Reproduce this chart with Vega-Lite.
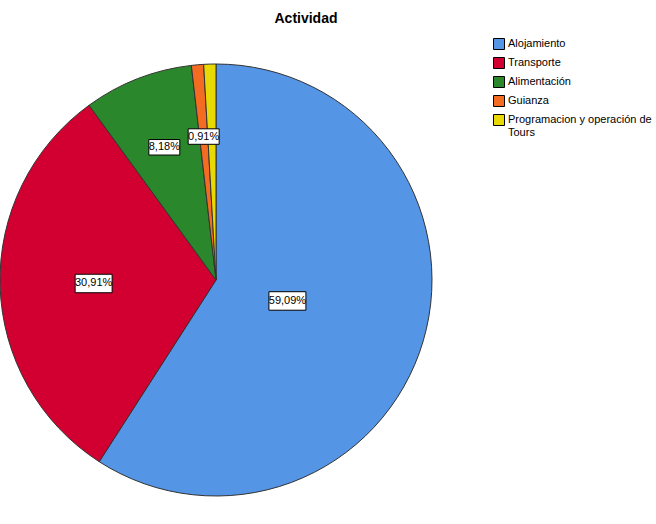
{
  "$schema": "https://vega.github.io/schema/vega-lite/v6.json",
  "width": 432,
  "height": 500,
  "autosize": {"type": "none"},
  "padding": {"top": 30, "left": 0, "right": 224, "bottom": 0},
  "background": "white",
  "title": {
    "text": "Actividad",
    "font": "Liberation Sans",
    "fontSize": 14,
    "fontWeight": "bold",
    "color": "black",
    "anchor": "middle",
    "frame": "group",
    "dx": 90,
    "offset": 4
  },
  "data": {
    "values": [
      {"Actividad": "Alojamiento", "Porcentaje": 59.09, "orden": 1, "etiqueta": "59,09%"},
      {"Actividad": "Transporte", "Porcentaje": 30.91, "orden": 2, "etiqueta": "30,91%"},
      {"Actividad": "Alimentación", "Porcentaje": 8.18, "orden": 3, "etiqueta": "8,18%"},
      {"Actividad": "Guianza", "Porcentaje": 0.91, "orden": 4, "etiqueta": "0,91%"},
      {"Actividad": "Programacion y operación de Tours", "Porcentaje": 0.91, "orden": 5, "etiqueta": ""}
    ]
  },
  "layer": [
    {
      "mark": {"type": "arc", "outerRadius": 216, "stroke": "#333333", "strokeWidth": 1},
      "encoding": {
        "theta": {"field": "Porcentaje", "type": "quantitative", "stack": true},
        "order": {"field": "orden", "type": "quantitative"},
        "color": {
          "field": "Actividad",
          "type": "nominal",
          "scale": {
            "domain": ["Alojamiento", "Transporte", "Alimentación", "Guianza", "Programacion y operación de Tours"],
            "range": ["#5595E5", "#D20031", "#2B872B", "#F36C22", "#E8D804"]
          },
          "legend": {
            "orient": "none",
            "legendX": 493,
            "legendY": 8,
            "title": null,
            "padding": 0,
            "symbolType": "square",
            "symbolSize": 121,
            "symbolStrokeColor": "black",
            "symbolStrokeWidth": 1,
            "symbolOpacity": 1,
            "labelFont": "Liberation Sans",
            "labelFontSize": 11,
            "labelColor": "black",
            "labelOffset": 3,
            "labelLimit": 300,
            "rowPadding": 3,
            "labelExpr": "datum.label == 'Programacion y operación de Tours' ? ['Programacion y operación de', 'Tours'] : datum.label"
          }
        }
      }
    },
    {
      "transform": [
        {"window": [{"op": "sum", "field": "Porcentaje", "as": "acum"}], "sort": [{"field": "orden"}], "frame": [null, 0]},
        {"filter": "datum.etiqueta != ''"},
        {"calculate": "(datum.acum - datum.Porcentaje / 2) / 100 * 2 * PI", "as": "mid"},
        {"calculate": "datum.Porcentaje / 100 * PI", "as": "half"},
        {"calculate": "2 * 216 * sin(datum.half) / (3 * datum.half)", "as": "dist"},
        {"calculate": "datum.dist * sin(datum.mid)", "as": "lx"},
        {"calculate": "datum.dist * cos(datum.mid)", "as": "ly"}
      ],
      "layer": [
        {
          "mark": {
            "type": "point",
            "shape": "M-1,-0.5L1,-0.5L1,0.5L-1,0.5Z",
            "filled": true,
            "fill": "white",
            "stroke": "black",
            "strokeWidth": 1,
            "opacity": 1
          },
          "encoding": {
            "x": {"field": "lx", "type": "quantitative", "scale": {"domain": [-216, 216], "nice": false, "zero": false}, "axis": null},
            "y": {"field": "ly", "type": "quantitative", "scale": {"domain": [-250, 250], "nice": false, "zero": false}, "axis": null},
            "size": {"condition": {"test": "length(datum.etiqueta) < 6", "value": 961}, "value": 1369}
          }
        },
        {
          "mark": {"type": "text", "font": "Liberation Sans", "fontSize": 11, "color": "black", "baseline": "middle", "align": "center"},
          "encoding": {
            "x": {"field": "lx", "type": "quantitative"},
            "y": {"field": "ly", "type": "quantitative"},
            "text": {"field": "etiqueta"}
          }
        }
      ]
    }
  ],
  "config": {"view": {"stroke": null}}
}
